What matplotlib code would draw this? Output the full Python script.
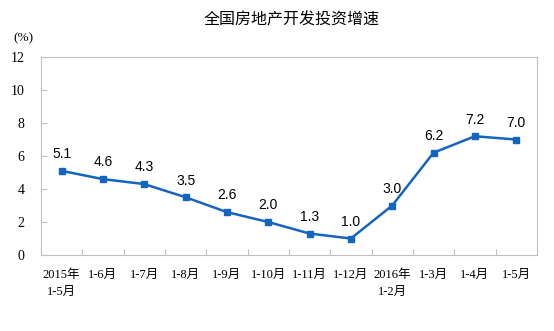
import matplotlib.pyplot as plt

plt.rcParams['font.family'] = ['Liberation Serif', 'Noto Sans CJK SC']

months = ['2015年\n1-5月', '1-6月', '1-7月', '1-8月', '1-9月', '1-10月',
          '1-11月', '1-12月', '2016年\n1-2月', '1-3月', '1-4月', '1-5月']
growth = [5.1, 4.6, 4.3, 3.5, 2.6, 2.0, 1.3, 1.0, 3.0, 6.2, 7.2, 7.0]
yticks = [0, 2, 4, 6, 8, 10, 12]

fig = plt.figure(figsize=(5.54, 3.31), dpi=100)
ax = fig.add_axes([0.074, 0.2296, 0.895, 0.598])

x = list(range(len(months)))
ax.plot(x, growth, color='#1565c0', lw=1.8, marker='s', ms=4.5)
for xi, v in zip(x, growth):
    ax.annotate('%.1f' % v, (xi, v), xytext=(0, 7), textcoords='offset points',
                ha='center', va='bottom', fontsize=10, family='Liberation Sans')

ax.set_xlim(-0.5, len(months) - 0.5)
ax.set_ylim(0, 12)
ax.set_yticks(yticks)
ax.set_yticklabels([str(t) for t in yticks], fontsize=10)
ax.set_xticks([i - 0.5 for i in range(1, len(months))], minor=False)
ax.set_xticklabels([])
ax.set_xticks(x, minor=True)
ax.set_xticklabels(months, minor=True, fontsize=9, linespacing=1.6)
ax.tick_params(axis='x', which='minor', length=0, pad=10)
ax.tick_params(axis='x', which='major', direction='in', length=4, color='#bfbfbf')
ax.tick_params(axis='y', direction='in', length=4, color='#bfbfbf', pad=12)
for s in ax.spines.values():
    s.set_color('#bfbfbf')

fig.text(0.527, 0.94, '全国房地产开发投资增速', ha='center', va='center',
         fontsize=11.5, family='Noto Sans CJK SC')
fig.text(0.043, 0.885, '(%)', ha='center', va='center', fontsize=9.5)

fig.savefig('out.png', dpi=100)
